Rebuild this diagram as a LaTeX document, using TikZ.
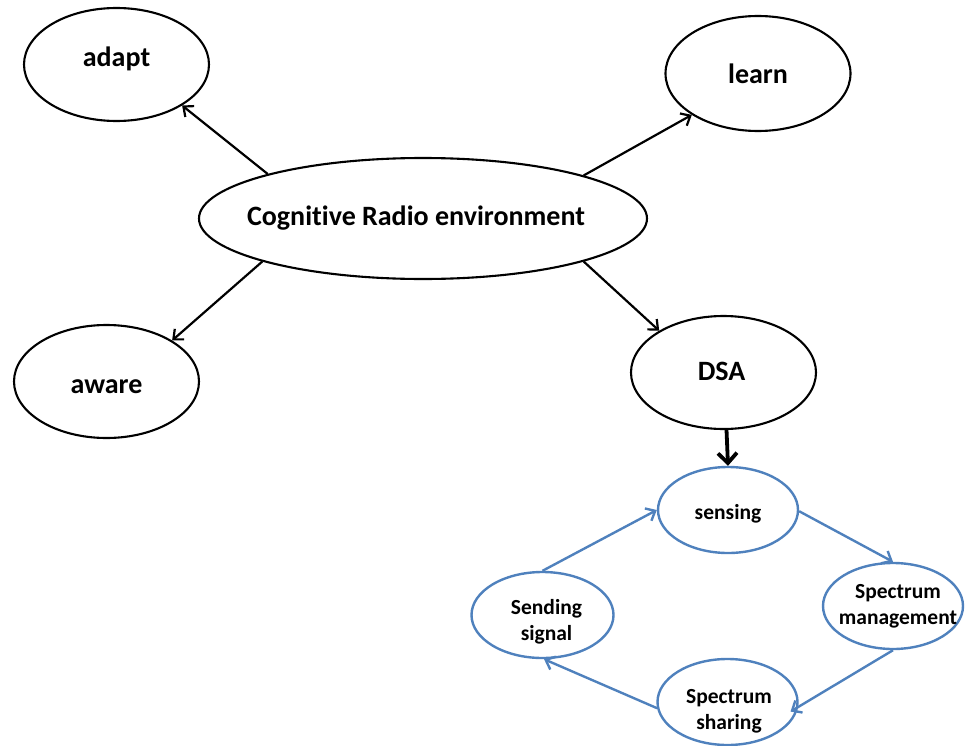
\documentclass[tikz,border=0pt]{standalone}
\usepackage{fontspec}
\setmainfont{Carlito}[Ligatures={NoCommon}]
\usetikzlibrary{shapes.geometric,arrows.meta}
\definecolor{cblue}{RGB}{79,129,189}
\begin{document}
\begin{tikzpicture}[x=1bp,y=-1bp,
  bel/.style={ellipse,draw=black,line width=2.1bp,inner sep=0pt,minimum width=185bp,minimum height=113bp},
  blel/.style={ellipse,draw=cblue,line width=2.4bp,inner sep=0pt,minimum width=140bp,minimum height=86bp},
  btxt/.style={font=\fontsize{28bp}{32bp}\selectfont\bfseries,inner sep=0pt,text height=0.62em,text depth=0.15em},
  stxt/.style={font=\fontsize{21.5bp}{26bp}\selectfont\bfseries,inner sep=0pt,align=center},
  barr/.style={line width=2.2bp,-{Straight Barb[length=8bp,width=14bp]}},
  thickarr/.style={line width=3.8bp,-{Straight Barb[length=10bp,width=19bp]}},
  bluearr/.style={draw=cblue,line width=2.4bp,-{Straight Barb[length=8bp,width=14bp]}}
]
\useasboundingbox (0,0) rectangle (965,746);

\node[bel,label={[btxt,yshift=0.5bp]center:adapt}] (adapt) at (116.5,64.5) {};
\node[bel,minimum height=115bp,label={[btxt,yshift=-7.5bp]center:learn}] (learn) at (758,73.5) {};
\node[bel,minimum width=448bp,minimum height=121bp,label={[btxt,xshift=-7bp,yshift=-4.5bp]center:Cognitive Radio environment}] (cog) at (423,218.5) {};
\node[bel,label={[btxt,yshift=-9.5bp]center:aware}] (aware) at (106.5,381.5) {};
\node[bel,label={[btxt,xshift=-2bp,yshift=-6bp]center:DSA}] (dsa) at (723.5,372.5) {};

\node[blel,label={[stxt,text height=0.62em,text depth=0.15em,yshift=-7bp]center:sensing}] (sensing) at (728,510) {};
\node[blel,label={[stxt,xshift=5bp,yshift=0bp]center:{Spectrum\\management}}] (mgmt) at (893,606) {};
\node[blel,label={[stxt,xshift=1.5bp,yshift=-9bp]center:{Spectrum\\sharing}}] (sharing) at (727.5,702) {};
\node[blel,minimum width=142bp,label={[stxt,xshift=4bp,yshift=-7bp]center:{Sending\\signal}}] (sending) at (542.5,615) {};

\draw[barr] (cog.164) -- (adapt.-32.6);
\draw[barr] (cog.15.9) -- (learn.-148.6);
\draw[barr] (cog.-15.4) -- (dsa.147.4);
\draw[barr] (cog.195.4) -- (aware.32);
\draw[thickarr] (dsa.-87) -- (sensing.north);

\draw[bluearr] (sensing.-1.6) -- (mgmt.north);
\draw[bluearr,shorten >=-9bp] (mgmt.south) -- (sharing.-4.3);
\draw[bluearr] (sharing.185) -- (sending.-88);
\draw[bluearr] (sending.north) -- (sensing.west);
\end{tikzpicture}
\end{document}
